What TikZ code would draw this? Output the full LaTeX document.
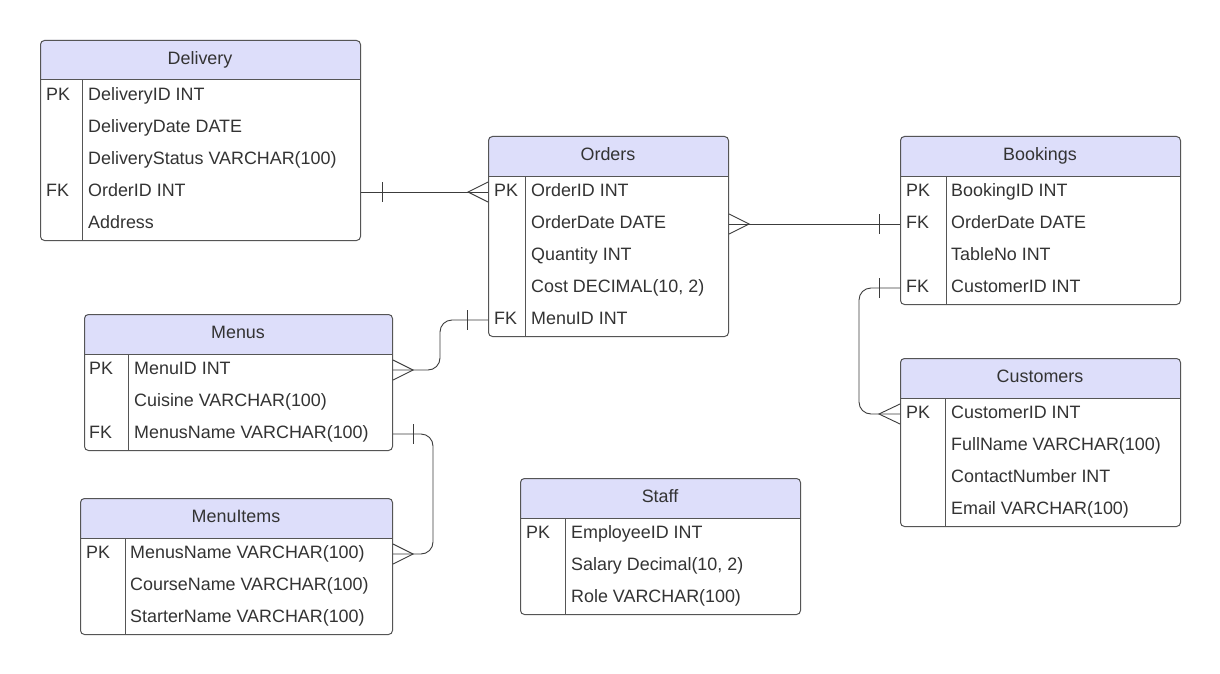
\documentclass[tikz,border=0pt]{standalone}
\usepackage{fontspec}
\setmainfont{Liberation Sans}
\usetikzlibrary{calc}
\definecolor{headfill}{RGB}{221,222,250}
\definecolor{txt}{RGB}{51,51,51}
\definecolor{bord}{RGB}{85,85,85}
\definecolor{conncol}{RGB}{60,60,60}
\tikzset{
  tbox/.style={draw=bord, line width=1pt, rounded corners=4pt, inner sep=0pt, anchor=north west},
  tline/.style={draw=bord, line width=1pt},
  txtbase/.style={inner sep=0pt, text=txt, font=\fontsize{17.9}{20}\selectfont, text height=12.6pt, text depth=4pt},
  field/.style={txtbase, anchor=west},
  keyf/.style={txtbase, anchor=west},
  title/.style={txtbase, anchor=center},
  conn/.style={draw=conncol, line width=0.9pt},
}
\newcommand\ertable[7]{%
  \fill[headfill] (#2,#3+40) {[rounded corners=4pt] -- (#2,#3) -- (#2+#4,#3)} -- (#2+#4,#3+40) -- cycle;
  \node[tbox, minimum width=#4pt, minimum height=#5pt] (#1) at (#2,#3) {};
  \draw[tline] (#2,#3+40) -- (#2+#4,#3+40);
  \draw[tline] (#6,#3+40) -- (#6,#3+#5);
  \node[title] (#1-title) at (#2+#4/2,#3+20) {#7};
}
\begin{document}
\begin{tikzpicture}[x=1pt,y=-1pt]
\useasboundingbox (0,0) rectangle (1220,674);
\fill[white] (0,0) rectangle (1220,674);

% Delivery
\ertable{delivery}{40}{40}{320}{200}{82}{Delivery}
\node[keyf] (dk1) at (46,96) {PK};
\node[field] (dDeliveryID) at (88,96) {DeliveryID INT};
\node[field] (dDeliveryDate) at (88,128) {DeliveryDate DATE};
\node[field] (dDeliveryStatus) at (88,160) {DeliveryStatus VARCHAR(100)};
\node[keyf] (dk4) at (46,192) {FK};
\node[field] (dOrderID) at (88,192) {OrderID INT};
\node[field] (dAddress) at (88,224) {Address};

% Orders
\ertable{orders}{488}{136}{240}{200}{525}{Orders}
\node[keyf] (ok1) at (494,192) {PK};
\node[field] (oOrderID) at (531,192) {OrderID INT};
\node[field] (oOrderDate) at (531,224) {OrderDate DATE};
\node[field] (oQuantity) at (531,256) {Quantity INT};
\node[field] (oCost) at (531,288) {Cost DECIMAL(10, 2)};
\node[keyf] (ok5) at (494,320) {FK};
\node[field] (oMenuID) at (531,320) {MenuID INT};

% Bookings
\ertable{bookings}{900}{136}{280}{168}{946}{Bookings}
\node[keyf] (bk1) at (906,192) {PK};
\node[field] (bBookingID) at (951,192) {BookingID INT};
\node[keyf] (bk2) at (906,224) {FK};
\node[field] (bOrderDate) at (951,224) {OrderDate DATE};
\node[field] (bTableNo) at (951,256) {TableNo INT};
\node[keyf] (bk4) at (906,288) {FK};
\node[field] (bCustomerID) at (951,288) {CustomerID INT};

% Customers
\ertable{customers}{900}{358}{280}{168}{945}{Customers}
\node[keyf] (ck1) at (906,414) {PK};
\node[field] (cCustomerID) at (951,414) {CustomerID INT};
\node[field] (cFullName) at (951,446) {FullName VARCHAR(100)};
\node[field] (cContact) at (951,478) {ContactNumber INT};
\node[field] (cEmail) at (951,510) {Email VARCHAR(100)};

% Menus
\ertable{menus}{84}{314}{308}{136}{128}{Menus}
\node[keyf] (mk1) at (89,370) {PK};
\node[field] (mMenuID) at (134,370) {MenuID INT};
\node[field] (mCuisine) at (134,402) {Cuisine VARCHAR(100)};
\node[keyf] (mk3) at (89,434) {FK};
\node[field] (mMenusName) at (134,434) {MenusName VARCHAR(100)};

% MenuItems
\ertable{menuitems}{80}{498}{312}{136}{125}{MenuItems}
\node[keyf] (mik1) at (86,554) {PK};
\node[field] (miMenusName) at (130,554) {MenusName VARCHAR(100)};
\node[field] (miCourseName) at (130,586) {CourseName VARCHAR(100)};
\node[field] (miStarterName) at (130,618) {StarterName VARCHAR(100)};

% Staff
\ertable{staff}{520}{478}{280}{136}{565}{Staff}
\node[keyf] (sk1) at (526,534) {PK};
\node[field] (sEmployeeID) at (571,534) {EmployeeID INT};
\node[field] (sSalary) at (571,566) {Salary Decimal(10, 2)};
\node[field] (sRole) at (571,598) {Role VARCHAR(100)};

% Connector waypoints
\coordinate (j1) at (440,345);
\coordinate (j2) at (433,494);
\coordinate (j3) at (859,351);

% Delivery.OrderID -- Orders.OrderID
\draw[conn] (delivery.east |- dOrderID) -- (orders.west |- oOrderID);
\draw[conn] ([xshift=21pt]delivery.east |- dOrderID) ++(0,-10) -- ++(0,20);
\draw[conn] (orders.west |- oOrderID) ++(0,-10) -- ++(-20,10) -- ++(20,10);

% Orders.OrderDate -- Bookings.OrderDate
\draw[conn] (orders.east |- oOrderDate) -- (bookings.west |- bOrderDate);
\draw[conn] (orders.east |- oOrderDate) ++(0,-10) -- ++(20,10) -- ++(-20,10);
\draw[conn] ([xshift=-21pt]bookings.west |- bOrderDate) ++(0,-10) -- ++(0,20);

% Orders.MenuID -- Menus.MenuID
\draw[conn, rounded corners=12pt] (orders.west |- oMenuID) -| (j1) |- (menus.east |- mMenuID);
\draw[conn] ([xshift=-21pt]orders.west |- oMenuID) ++(0,-10) -- ++(0,20);
\draw[conn] (menus.east |- mMenuID) ++(0,-10) -- ++(20,10) -- ++(-20,10);

% Menus.MenusName -- MenuItems.MenusName
\draw[conn, rounded corners=12pt] (menus.east |- mMenusName) -| (j2) |- (menuitems.east |- miMenusName);
\draw[conn] ([xshift=20pt]menus.east |- mMenusName) ++(0,-10) -- ++(0,20);
\draw[conn] (menuitems.east |- miMenusName) ++(0,-10) -- ++(20,10) -- ++(-20,10);

% Bookings.CustomerID -- Customers.CustomerID
\draw[conn, rounded corners=12pt] (bookings.west |- bCustomerID) -| (j3) |- (customers.west |- cCustomerID);
\draw[conn] ([xshift=-21pt]bookings.west |- bCustomerID) ++(0,-10) -- ++(0,20);
\draw[conn] (customers.west |- cCustomerID) ++(0,-10) -- ++(-21,10) -- ++(21,10);
\end{tikzpicture}
\end{document}
